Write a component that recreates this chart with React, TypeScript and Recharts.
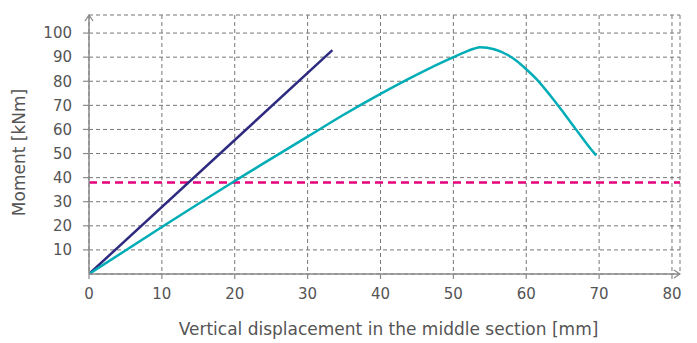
import React from 'react';
import { LineChart, Line, XAxis, YAxis, CartesianGrid, ReferenceLine } from 'recharts';

const xTicks = [0, 10, 20, 30, 40, 50, 60, 70, 80];
const yTicks = [10, 20, 30, 40, 50, 60, 70, 80, 90, 100];
const xDomain = [0, 81.1];
const yDomain = [0, 107.5];

const refDisp = [0, 33.4];
const refMoment = [0, 92.9];

const testDisp = [0, 10, 20, 30, 35, 40, 45, 50, 51.5, 52.8, 53.7, 55.6, 57.4, 58.7, 60, 61.5, 63.3, 65.2, 67, 68.8, 69.6];
const testMoment = [0, 19.5, 38.6, 57, 66.2, 74.8, 82.8, 90, 92, 93.5, 94.1, 93.3, 91.0, 88.4, 85.0, 80.6, 74.1, 66.6, 59.3, 52.1, 49.2];

const threshold = 38;

const refData = refDisp.map((x, i) => ({ x, y: refMoment[i] }));
const testData = testDisp.map((x, i) => ({ x, y: testMoment[i] }));

const FONT = '"DejaVu Sans", sans-serif';
const TEXT = '#555';
const AXIS = '#8a8a8a';

const YLabel = (props: any) => {
  const vb = props.viewBox || {};
  const cx = 19;
  const cy = vb.y + vb.height / 2 + 8;
  return (
    <text x={cx} y={cy} transform={`rotate(-90 ${cx} ${cy})`} textAnchor="middle" dominantBaseline="central"
      fill={TEXT} fontSize={17} fontFamily={FONT}>Moment [kNm]</text>
  );
};

const XLabel = (props: any) => {
  const vb = props.viewBox || {};
  const cx = vb.x + vb.width / 2 + 4;
  return (
    <text x={cx} y={335} textAnchor="middle" fill={TEXT} fontSize={17} fontFamily={FONT}>
      Vertical displacement in the middle section [mm]
    </text>
  );
};

export default function App() {
  return (
    <div style={{ position: 'absolute', left: 0, top: 0, width: 697, height: 343, background: '#fff' }}>
      <LineChart width={697} height={343} margin={{ top: 15, right: 17, left: 0, bottom: 0 }}>
        <defs>
          <marker id="arrowHead" viewBox="0 0 8 10" refX="7" refY="5" markerWidth="8" markerHeight="10"
            markerUnits="userSpaceOnUse" orient="auto-start-reverse">
            <path d="M1,1 L7,5 L1,9" fill="none" stroke={AXIS} strokeWidth={1.3} />
          </marker>
        </defs>
        <CartesianGrid stroke="#777" strokeDasharray="4 3" strokeWidth={1} />
        <XAxis
          dataKey="x"
          type="number"
          domain={xDomain}
          ticks={xTicks}
          allowDataOverflow
          height={69}
          axisLine={{ stroke: AXIS, strokeWidth: 1.5, markerEnd: 'url(#arrowHead)' } as any}
          tickLine={{ stroke: AXIS, strokeWidth: 1.2 }}
          tickSize={5}
          tickMargin={9}
          tick={{ fill: TEXT, fontSize: 15, fontFamily: FONT }}
          label={<XLabel />}
        />
        <YAxis
          dataKey="y"
          type="number"
          domain={yDomain}
          ticks={yTicks}
          allowDataOverflow
          width={89}
          axisLine={{ stroke: AXIS, strokeWidth: 1.5, markerStart: 'url(#arrowHead)' } as any}
          tickLine={{ stroke: AXIS, strokeWidth: 1.2 }}
          tickSize={6}
          tickMargin={11}
          tick={{ fill: TEXT, fontSize: 15, fontFamily: FONT }}
          label={<YLabel />}
        />
        <ReferenceLine y={threshold} stroke="#e5007e" strokeWidth={2.5} strokeDasharray="8 5" ifOverflow="extendDomain" />
        <Line data={refData} dataKey="y" type="linear" stroke="#2e2a80" strokeWidth={2.5} dot={false} isAnimationActive={false} />
        <Line data={testData} dataKey="y" type="monotone" stroke="#00adb6" strokeWidth={2.5} dot={false} isAnimationActive={false} />
      </LineChart>
    </div>
  );
}
